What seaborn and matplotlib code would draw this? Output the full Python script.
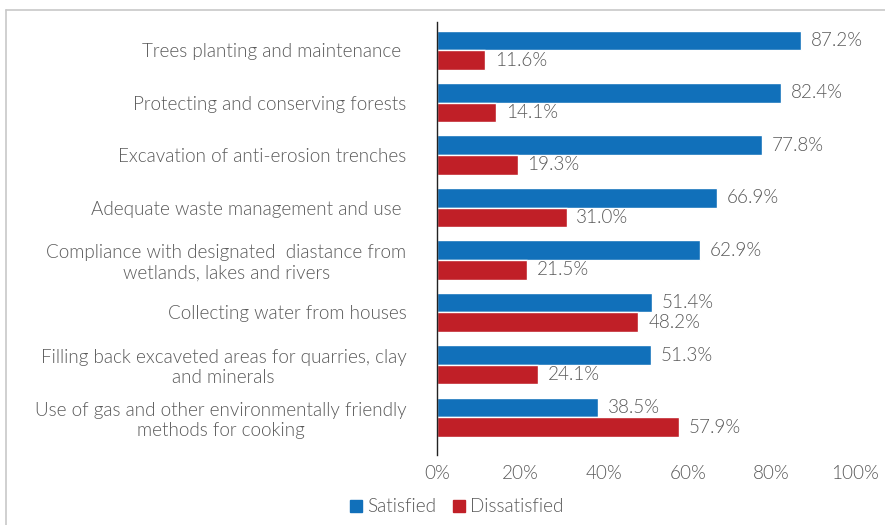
import pandas as pd
import numpy as np
import matplotlib
matplotlib.use("Agg")
import matplotlib.pyplot as plt
import seaborn as sns
from matplotlib.lines import Line2D

categories = [
    "Trees planting and maintenance ",
    "Protecting and conserving forests",
    "Excavation of anti-erosion trenches",
    "Adequate waste management and use ",
    "Compliance with designated  diastance from\nwetlands, lakes and rivers",
    "Collecting water from houses",
    "Filling back excaveted areas for quarries, clay\nand minerals",
    "Use of gas and other environmentally friendly\nmethods for cooking",
]
satisfied = [87.2, 82.4, 77.8, 66.9, 62.9, 51.4, 51.3, 38.5]
dissatisfied = [11.6, 14.1, 19.3, 31.0, 21.5, 48.2, 24.1, 57.9]
series = ["Satisfied", "Dissatisfied"]
x_ticks = [0, 20, 40, 60, 80, 100]

df = pd.DataFrame({
    "category": categories * 2,
    "value": satisfied + dissatisfied,
    "series": [series[0]] * len(categories) + [series[1]] * len(categories),
})

sns.set_style("white")
plt.rcParams["font.family"] = ["Lato", "DejaVu Sans"]
text_color = "#595959"
fs = 13.6
fw = 300
palette = {"Satisfied": "#1170BA", "Dissatisfied": "#C01F27"}

fig = plt.figure(figsize=(8.85, 5.25), dpi=100)
ax = fig.add_axes([437 / 885, 1 - 455 / 525, (855 - 437) / 885, (455 - 22) / 525])

sns.barplot(data=df, y="category", x="value", hue="series", order=categories,
            hue_order=series, palette=palette, width=0.75, orient="h",
            saturation=1, legend=False, ax=ax)

for cont in ax.containers:
    ax.bar_label(cont, labels=[f"{v:.1f}%" for v in cont.datavalues], padding=7,
                 fontsize=fs, color=text_color, fontweight=fw)

ax.set_xlim(0, 100)
ax.set_ylim(7.72, -0.54)
ax.set_xticks(x_ticks)
ax.set_xticklabels([f"{t}%" for t in x_ticks])
ax.set_xlabel("")
ax.set_ylabel("")
ax.tick_params(axis="x", length=0, pad=7, labelsize=fs, labelcolor=text_color)
ax.tick_params(axis="y", length=0, pad=22, labelsize=fs, labelcolor=text_color)
for lbl in ax.get_yticklabels():
    lbl.set_multialignment("center")
    lbl.set_fontweight(fw)
for lbl in ax.get_xticklabels():
    lbl.set_fontweight(fw)
for side in ["top", "right", "bottom"]:
    ax.spines[side].set_visible(False)
ax.spines["left"].set_color("#222222")
ax.spines["left"].set_linewidth(1.0)

handles = [Line2D([0], [0], marker="s", linestyle="", markersize=9,
                  markerfacecolor=palette[s], markeredgecolor=palette[s]) for s in series]
leg = fig.legend(handles, series, loc="center", bbox_to_anchor=(454 / 885, 1 - 507 / 525),
                 ncol=2, frameon=False, handletextpad=0.0, columnspacing=0.6,
                 handlelength=1.2, prop={"size": fs, "weight": fw})
for t in leg.get_texts():
    t.set_color(text_color)

# light frame around the chart area
fig.add_artist(Line2D([6 / 885, 6 / 885], [0, 1 - 10 / 525], transform=fig.transFigure,
                      color="#c8c8c8", linewidth=1.2))
fig.add_artist(Line2D([6 / 885, 1], [1 - 10 / 525, 1 - 10 / 525], transform=fig.transFigure,
                      color="#c8c8c8", linewidth=1.2))

fig.savefig("out.png", dpi=100)
